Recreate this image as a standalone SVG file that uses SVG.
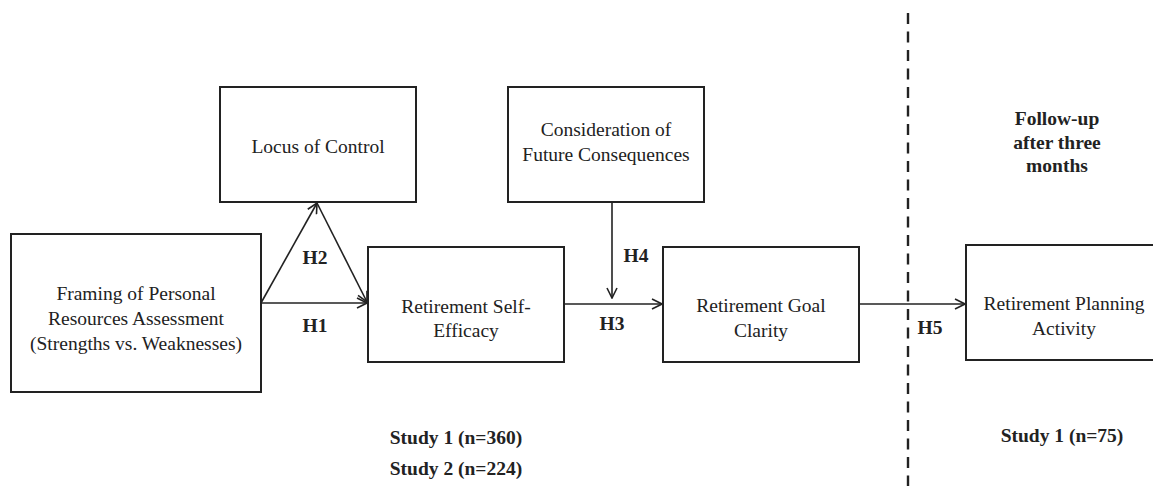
<svg xmlns="http://www.w3.org/2000/svg" width="1153" height="486" viewBox="0 0 1153 486">
<style>
.box{fill:#fff;stroke:#222;stroke-width:2}
.t{font-family:"Liberation Serif","Times New Roman",serif;font-size:19.5px;fill:#222;text-anchor:middle}
.b{font-family:"Liberation Serif","Times New Roman",serif;font-size:19.5px;font-weight:bold;fill:#222;text-anchor:middle}
.c{stroke:#222;stroke-width:1.6;fill:none}
</style>
<defs>
<marker id="arr" viewBox="0 0 12 12" refX="11" refY="6" markerWidth="12" markerHeight="12" markerUnits="userSpaceOnUse" orient="auto">
<path d="M1,1 L11,6 L1,11" fill="none" stroke="#222" stroke-width="1.6"/>
</marker>
</defs>
<rect width="1153" height="486" fill="#fff"/>
<g id="connectors">
<line class="c" x1="261" y1="303" x2="367" y2="303" marker-end="url(#arr)"/>
<line class="c" x1="261" y1="303" x2="317" y2="203" marker-end="url(#arr)"/>
<line class="c" x1="317" y1="203" x2="367" y2="302" marker-end="url(#arr)"/>
<line class="c" x1="564" y1="304" x2="662" y2="304" marker-end="url(#arr)"/>
<line class="c" x1="612" y1="202" x2="612" y2="298" marker-end="url(#arr)"/>
<line class="c" x1="859" y1="304" x2="965" y2="304" marker-end="url(#arr)"/>
<line x1="908" y1="13" x2="908" y2="486" stroke="#222" stroke-width="2.4" stroke-dasharray="11,7.5"/>
</g>
<g id="labels">
<text class="b" x="315" y="264">H2</text>
<text class="b" x="315" y="332">H1</text>
<text class="b" x="612" y="330">H3</text>
<text class="b" x="636" y="262">H4</text>
<text class="b" x="930" y="334">H5</text>
<text class="b" x="456" y="444">Study 1 (n=360)</text>
<text class="b" x="456" y="475">Study 2 (n=224)</text>
<text class="b" x="1062" y="442">Study 1 (n=75)</text>
<text class="b" x="1057" y="125">Follow-up</text>
<text class="b" x="1057" y="149">after three</text>
<text class="b" x="1057" y="172">months</text>
</g>
<g id="framing">
<rect class="box" x="11" y="234" width="250" height="158"/>
<text class="t" x="136" y="300">Framing of Personal</text>
<text class="t" x="136" y="325">Resources Assessment</text>
<text class="t" x="136" y="350">(Strengths vs. Weaknesses)</text>
</g>
<g id="locus">
<rect class="box" x="220" y="87" width="196" height="115"/>
<text class="t" x="318" y="153">Locus of Control</text>
</g>
<g id="consideration">
<rect class="box" x="508" y="87" width="196" height="115"/>
<text class="t" x="606" y="136">Consideration of</text>
<text class="t" x="606" y="161">Future Consequences</text>
</g>
<g id="selfefficacy">
<rect class="box" x="368" y="247" width="196" height="115"/>
<text class="t" x="466" y="313">Retirement Self-</text>
<text class="t" x="466" y="337">Efficacy</text>
</g>
<g id="goalclarity">
<rect class="box" x="663" y="247" width="196" height="115"/>
<text class="t" x="761" y="312">Retirement Goal</text>
<text class="t" x="761" y="337">Clarity</text>
</g>
<g id="planning">
<rect class="box" x="966" y="245" width="200" height="115"/>
<text class="t" x="1064" y="310">Retirement Planning</text>
<text class="t" x="1064" y="335">Activity</text>
</g>
</svg>
